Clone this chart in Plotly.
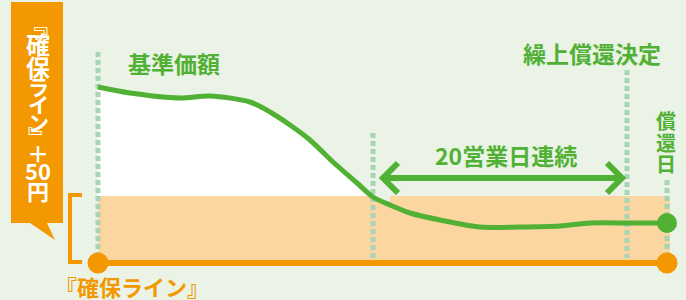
import plotly.graph_objects as go

# ---- data (chart units: x = time position, y = value position, y axis reversed) ----
nav_x = [98, 130, 180, 210, 250, 270, 290, 310, 333, 357, 373, 390, 410, 440, 480, 520, 560, 590, 627, 667]
nav_y = [87, 93, 98, 96, 102, 112, 125, 140, 162, 183, 197, 205, 213, 220, 227, 227, 226, 223, 223, 223]
floor_x = [98, 667]
floor_y = [263, 263]
plus50_y = 196
band_right = 670
event_x = [98, 373, 627, 667]          # start, 20-day start, decision, redemption
event_top = [52, 133, 70, 180]
event_bottom = [253, 258, 258, 255]
arrow_span = [383, 622]
arrow_y = 178

callout_chars = ["﹃", "確", "保", "ラ", "イ", "ン", "﹄", "＋", "50", "円"]
callout_pos = [24, 43, 66, 86, 104, 122, 136, 152, 170, 190]
callout_size = [20, 24, 24, 21, 21, 21, 20, 22, 22, 22]
redeem_chars = ["償", "還", "日"]
redeem_pos = [120, 142, 163]

BG = "#EAF3E5"
ORANGE = "#F39800"
LIGHT_OR = "#FBD6A1"
GREEN = "#50B135"
DOT = "#A8D6B4"
FONT = "Noto Sans CJK JP"

fig = go.Figure()

# band and white area (shapes below traces)
fig.add_shape(type="rect", x0=floor_x[0], x1=band_right, y0=plus50_y, y1=floor_y[0],
              fillcolor=LIGHT_OR, line_width=0, layer="below")
fig.add_shape(type="rect", x0=floor_x[0], x1=event_x[1] + 5, y0=nav_y[0] - 10, y1=plus50_y,
              fillcolor="white", line_width=0, layer="below")

# mask above the curve (left part only)
n = sum(1 for v in nav_x if v <= event_x[1]) + 1
fig.add_trace(go.Scatter(x=nav_x[:n], y=nav_y[:n], mode="lines",
                         line=dict(width=0, shape="spline"), fill="tozeroy",
                         fillcolor=BG, hoverinfo="skip"))

# dotted event lines
for ex, t, b in zip(event_x, event_top, event_bottom):
    fig.add_trace(go.Scatter(x=[ex, ex], y=[t, b], mode="lines",
                             line=dict(color=DOT, width=5, dash="5px,3px"), hoverinfo="skip"))

# callout box
cx = [11, 63, 63, 47, 55, 30, 11, 11]
cy = [2, 2, 223, 223, 240, 223, 223, 2]
fig.add_trace(go.Scatter(x=cx, y=cy, mode="lines", fill="toself", fillcolor=ORANGE,
                         line=dict(width=0), hoverinfo="skip"))

# bracket
fig.add_trace(go.Scatter(x=[82, 70, 70, 82], y=[plus50_y - 1, plus50_y - 1, floor_y[0] - 1, floor_y[0] - 1],
                         mode="lines", line=dict(color=ORANGE, width=4), hoverinfo="skip"))

# floor line
fig.add_trace(go.Scatter(x=floor_x, y=floor_y, mode="lines+markers",
                         line=dict(color=ORANGE, width=6),
                         marker=dict(size=21, color=ORANGE), hoverinfo="skip"))

# NAV curve
fig.add_trace(go.Scatter(x=nav_x, y=nav_y, mode="lines",
                         line=dict(color=GREEN, width=5, shape="spline", smoothing=0.8),
                         hoverinfo="skip"))
fig.add_trace(go.Scatter(x=[nav_x[-1]], y=[nav_y[-1]], mode="markers",
                         marker=dict(size=20, color=GREEN), hoverinfo="skip"))

# double arrow
h = 15
ax = [arrow_span[0], arrow_span[1], None,
      arrow_span[0] + h, arrow_span[0], arrow_span[0] + h, None,
      arrow_span[1] - h, arrow_span[1], arrow_span[1] - h]
ay = [arrow_y, arrow_y, None,
      arrow_y - h, arrow_y, arrow_y + h, None,
      arrow_y - h, arrow_y, arrow_y + h]
fig.add_trace(go.Scatter(x=ax, y=ay, mode="lines",
                         line=dict(color=GREEN, width=6), hoverinfo="skip"))

def label(text, x, y, color, size=23):
    fig.add_annotation(x=x, y=y, text="<b>" + text + "</b>", showarrow=False,
                       font=dict(family=FONT, size=size, color=color),
                       xanchor="center", yanchor="middle")

label("基準価額", 174, 63, GREEN)
label("繰上償還決定", 592, 53, GREEN)
label("20営業日連続", 506, 155, GREEN)
label("『確保ライン』", 132, 286, ORANGE, size=22)
for ch, yy in zip(redeem_chars, redeem_pos):
    label(ch, 666, yy, GREEN, size=20)
for ch, yy, sz in zip(callout_chars, callout_pos, callout_size):
    label(ch, 38, yy, "white", size=sz)

fig.update_layout(
    width=686, height=300, margin=dict(l=0, r=0, t=0, b=0),
    paper_bgcolor=BG, plot_bgcolor=BG, showlegend=False,
    xaxis=dict(range=[0, 686], visible=False, fixedrange=True),
    yaxis=dict(range=[300, 0], visible=False, fixedrange=True),
)

fig.write_html("out.html", config={"displayModeBar": False},
               post_script="document.body.style.margin='0';document.body.style.background='%s';" % BG)
